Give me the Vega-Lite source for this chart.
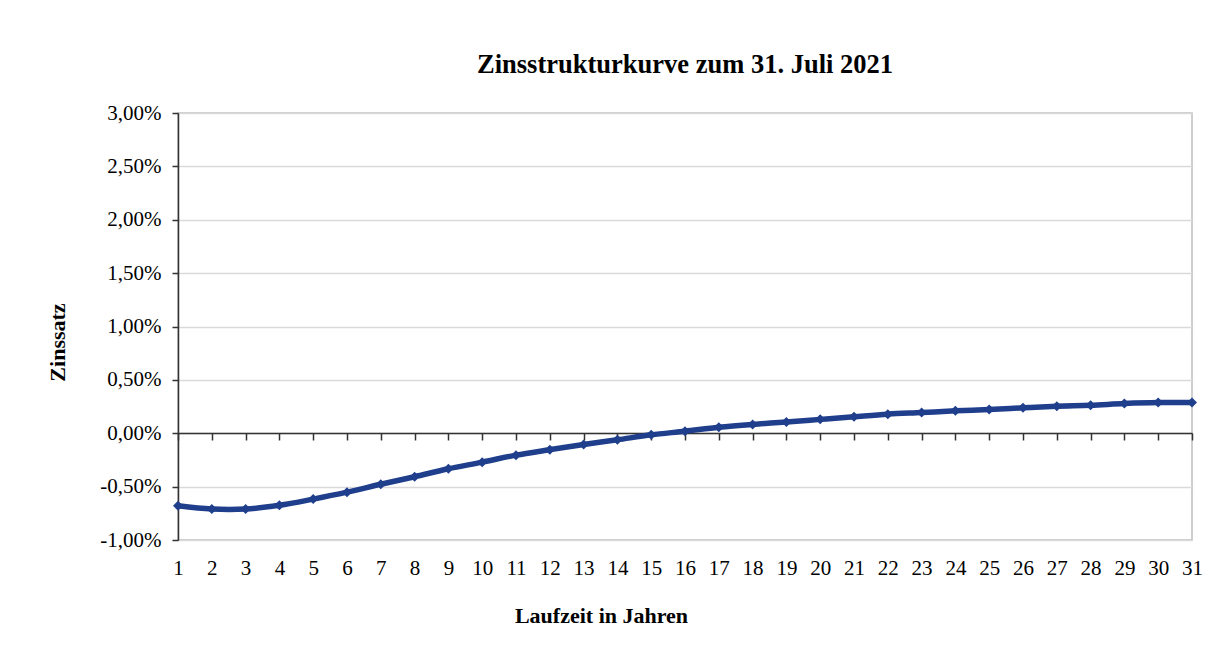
{
  "$schema": "https://vega.github.io/schema/vega-lite/v6.json",
  "width": 1014,
  "height": 427,
  "autosize": {"type": "none"},
  "padding": {"left": 178, "top": 113, "right": 23, "bottom": 113},
  "background": "white",
  "config": {
    "locale": {"number": {"decimal": ",", "thousands": ".", "grouping": [3], "currency": ["", " €"], "minus": "-"}},
    "view": {"stroke": "#bfbfbf", "strokeWidth": 1.5},
    "font": "Liberation Serif"
  },
  "title": {
    "text": "Zinsstrukturkurve zum 31. Juli 2021",
    "font": "Liberation Serif",
    "fontSize": 26.5,
    "fontWeight": "bold",
    "color": "black",
    "anchor": "middle",
    "baseline": "alphabetic",
    "offset": 3
  },
  "data": {
    "values": [
      {"jahr": 1, "zins": -0.0068},
      {"jahr": 2, "zins": -0.0071},
      {"jahr": 3, "zins": -0.0071},
      {"jahr": 4, "zins": -0.00675},
      {"jahr": 5, "zins": -0.00617},
      {"jahr": 6, "zins": -0.00552},
      {"jahr": 7, "zins": -0.00478},
      {"jahr": 8, "zins": -0.00407},
      {"jahr": 9, "zins": -0.00333},
      {"jahr": 10, "zins": -0.00271},
      {"jahr": 11, "zins": -0.00205},
      {"jahr": 12, "zins": -0.00154},
      {"jahr": 13, "zins": -0.00105},
      {"jahr": 14, "zins": -0.00061},
      {"jahr": 15, "zins": -0.00015},
      {"jahr": 16, "zins": 0.00019},
      {"jahr": 17, "zins": 0.00056},
      {"jahr": 18, "zins": 0.00083},
      {"jahr": 19, "zins": 0.00105},
      {"jahr": 20, "zins": 0.0013},
      {"jahr": 21, "zins": 0.00155},
      {"jahr": 22, "zins": 0.00179},
      {"jahr": 23, "zins": 0.00194},
      {"jahr": 24, "zins": 0.0021},
      {"jahr": 25, "zins": 0.00222},
      {"jahr": 26, "zins": 0.00238},
      {"jahr": 27, "zins": 0.00253},
      {"jahr": 28, "zins": 0.00262},
      {"jahr": 29, "zins": 0.00278},
      {"jahr": 30, "zins": 0.00287},
      {"jahr": 31, "zins": 0.00287}
    ]
  },
  "resolve": {"axis": {"x": "independent"}},
  "encoding": {
    "y": {
      "field": "zins",
      "type": "quantitative",
      "scale": {"domain": [-0.01, 0.03], "nice": false, "zero": false},
      "axis": {
        "values": [-0.01, -0.005, 0, 0.005, 0.01, 0.015, 0.02, 0.025, 0.03],
        "format": ".2%",
        "grid": true,
        "gridColor": "#d9d9d9",
        "gridWidth": 1.5,
        "domain": true,
        "domainColor": "#333333",
        "domainWidth": 1.5,
        "ticks": true,
        "tickColor": "#333333",
        "tickSize": 6,
        "tickWidth": 1.5,
        "labelFont": "Liberation Serif",
        "labelFontSize": 21,
        "labelColor": "black",
        "labelPadding": 11,
        "title": "Zinssatz",
        "titleFont": "Liberation Serif",
        "titleFontSize": 22,
        "titleFontWeight": "bold",
        "titleColor": "black",
        "titleAngle": 270,
        "titleAlign": "center",
        "titleBaseline": "middle",
        "titleX": -121,
        "titleY": 229
      }
    }
  },
  "layer": [
    {
      "mark": {"type": "line", "strokeOpacity": 0},
      "encoding": {
        "x": {
          "field": "jahr",
          "type": "quantitative",
          "scale": {"domain": [1, 31], "nice": false, "zero": false},
          "axis": {
            "orient": "bottom",
            "offset": -107,
            "values": [1,2,3,4,5,6,7,8,9,10,11,12,13,14,15,16,17,18,19,20,21,22,23,24,25,26,27,28,29,30,31],
            "labels": false,
            "grid": false,
            "domain": true,
            "domainColor": "#333333",
            "domainWidth": 1.5,
            "ticks": true,
            "tickColor": "#333333",
            "tickSize": 7,
            "tickWidth": 1.5,
            "title": null
          }
        }
      }
    },
    {
      "mark": {
        "type": "line",
        "interpolate": "cardinal",
        "color": "#1f3e8c",
        "strokeWidth": 5.5,
        "point": {"shape": "diamond", "size": 100, "filled": true, "color": "#1f3e8c"}
      },
      "encoding": {
        "x": {
          "field": "jahr",
          "type": "quantitative",
          "scale": {"domain": [1, 31], "nice": false, "zero": false},
          "axis": {
            "orient": "bottom",
            "values": [1,2,3,4,5,6,7,8,9,10,11,12,13,14,15,16,17,18,19,20,21,22,23,24,25,26,27,28,29,30,31],
            "format": "d",
            "labels": true,
            "grid": false,
            "domain": false,
            "ticks": false,
            "labelFont": "Liberation Serif",
            "labelFontSize": 21,
            "labelColor": "black",
            "labelPadding": 17,
            "labelFlush": false,
            "labelOverlap": false,
            "title": "Laufzeit in Jahren",
            "titleFont": "Liberation Serif",
            "titleFontSize": 22,
            "titleFontWeight": "bold",
            "titleColor": "black",
            "titleBaseline": "middle",
            "titleX": 423,
            "titleY": 75
          }
        }
      }
    }
  ]
}
